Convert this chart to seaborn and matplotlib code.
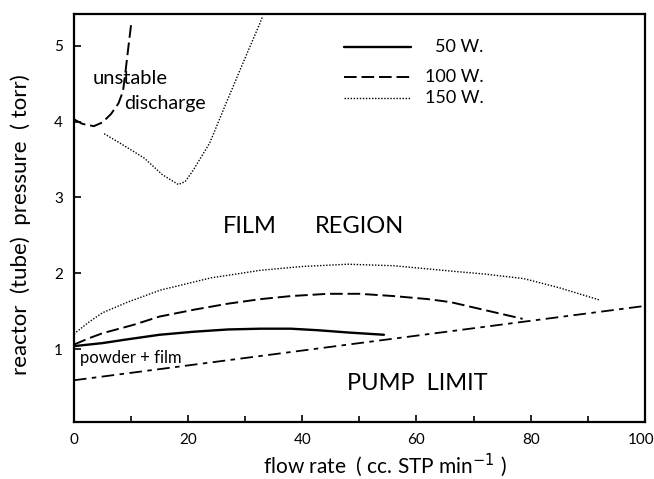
import numpy as np
import pandas as pd
import matplotlib
matplotlib.use("Agg")
import matplotlib.pyplot as plt
import matplotlib.transforms as mtransforms
from matplotlib.lines import Line2D
import seaborn as sns

# Flow rate (cc STP/min) vs reactor pressure (torr) boundaries
x_50w = [0, 5, 9.4, 15, 21, 27, 32.7, 38, 42.7, 48, 54.3]
y_50w = [1.04, 1.08, 1.13, 1.19, 1.23, 1.26, 1.27, 1.27, 1.25, 1.22, 1.19]

x_100w = [0, 2.5, 5, 10.4, 15, 21, 27, 32.7, 38, 44.5, 50, 56, 62, 66, 70, 74, 78.6]
y_100w = [1.06, 1.14, 1.21, 1.32, 1.43, 1.52, 1.60, 1.66, 1.70, 1.73, 1.73, 1.70, 1.66, 1.62, 1.55, 1.48, 1.40]

x_150w = [0, 2.5, 5, 9.4, 15.2, 24, 32.7, 40, 48, 56, 66, 72, 78.8, 85, 92]
y_150w = [1.20, 1.35, 1.48, 1.62, 1.78, 1.94, 2.04, 2.09, 2.12, 2.10, 2.03, 1.99, 1.93, 1.81, 1.65]

# unstable-discharge boundaries
x_100w_hi = [0, 1.5, 3.5, 5.0, 6.5, 7.8, 8.6, 9.1, 9.6, 10.1]
y_100w_hi = [4.03, 3.97, 3.94, 3.99, 4.10, 4.24, 4.40, 4.70, 5.02, 5.33]

x_150w_hi = [5.3, 8, 12.3, 15.5, 18.3, 19.5, 20.9, 23.8, 26.7, 29.6, 32.6, 33.0]
y_150w_hi = [3.84, 3.72, 3.52, 3.30, 3.17, 3.21, 3.36, 3.72, 4.25, 4.77, 5.30, 5.38]

# pump limit
x_pump = [0, 100]
y_pump = [0.59, 1.57]

x_ticks = [0, 20, 40, 60, 80, 100]
y_ticks = [1, 2, 3, 4, 5]
legend_labels = ["50 W.", "100 W.", "150 W."]

sns.set_style("ticks")
plt.rcParams["font.family"] = ["Lato", "DejaVu Sans"]
plt.rcParams["text.color"] = "black"
plt.rcParams["axes.labelcolor"] = "black"
plt.rcParams["xtick.color"] = "black"
plt.rcParams["ytick.color"] = "black"

fig = plt.figure(figsize=(6.54, 4.79), dpi=100)
ax = fig.add_axes([0.113, 0.119, 0.873, 0.852])

solid = dict(color="black", lw=1.7)
dashed = dict(color="black", lw=1.4, dashes=(6.5, 2.5))
dotted = dict(color="black", lw=1.0, dashes=(1.0, 1.2))
dashdot = dict(color="black", lw=1.3, dashes=(7, 3, 2.5, 3))


def draw(xs, ys, style):
    df = pd.DataFrame({"x": xs, "y": ys})
    sns.lineplot(data=df, x="x", y="y", ax=ax, sort=False, estimator=None, **style)


draw(x_50w, y_50w, solid)
draw(x_100w, y_100w, dashed)
draw(x_150w, y_150w, dotted)
draw(x_100w_hi, y_100w_hi, dashed)
draw(x_150w_hi, y_150w_hi, dotted)
draw(x_pump, y_pump, dashdot)

ax.set_xlim(0, 100)
ax.set_ylim(0.04, 5.42)
ax.set_xticks(x_ticks)
ax.set_xticks(np.arange(10, 100, 20), minor=True)
ax.set_yticks(y_ticks)
ax.tick_params(which="major", direction="in", length=5, width=1.2, labelsize=11, pad=8)
ax.tick_params(which="minor", direction="in", length=4, width=1.2)
for s in ax.spines.values():
    s.set_linewidth(1.6)
    s.set_color("black")

# keep the last x tick label inside the figure edge
last = ax.get_xticklabels()[-1]
last.set_transform(last.get_transform() + mtransforms.ScaledTranslation(-3 / 72, 0, fig.dpi_scale_trans))

ax.set_xlabel("flow rate  ( cc. STP min$^{-1}$ )", fontsize=15)
ax.set_ylabel("reactor  (tube)  pressure  ( torr)", fontsize=16)
ax.xaxis.set_label_coords(0.545, -0.072)
ax.yaxis.set_label_coords(-0.075, 0.483)

# region annotations
ax.text(30.8, 2.62, "FILM", fontsize=17, ha="center", va="center")
ax.text(50.1, 2.62, "REGION", fontsize=17, ha="center", va="center")
ax.text(60.2, 0.55, "PUMP  LIMIT", fontsize=17, ha="center", va="center")
ax.text(1.1, 0.88, "powder + film", fontsize=12, ha="left", va="center")
ax.text(3.2, 4.57, "unstable", fontsize=14.5, ha="left", va="center")
ax.text(8.8, 4.24, "discharge", fontsize=14, ha="left", va="center")

# legend keys
key_styles = [solid, dashed, dotted]
key_y = [0.919, 0.846, 0.793]
for lab, st, yy in zip(legend_labels, key_styles, key_y):
    kw = {k: v for k, v in st.items()}
    ax.add_line(Line2D([0.473, 0.59], [yy, yy], transform=ax.transAxes, **kw))
    ax.text(0.718, yy, lab, transform=ax.transAxes, fontsize=13, ha="right", va="center")

fig.savefig("out.png", dpi=100)
